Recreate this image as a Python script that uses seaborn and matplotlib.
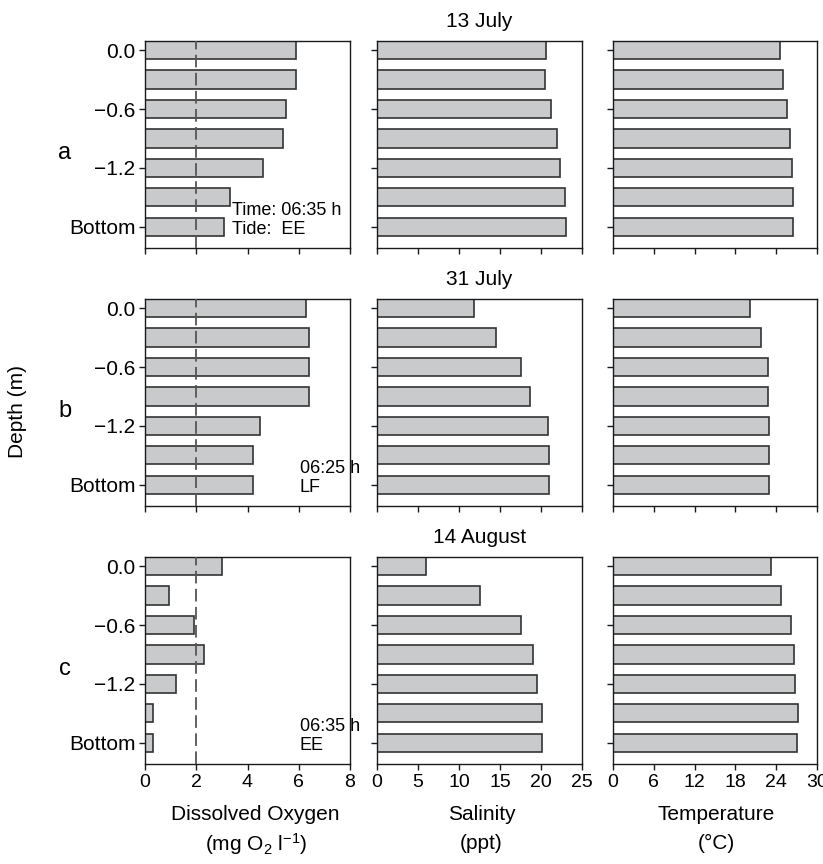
import matplotlib
matplotlib.use("Agg")
import matplotlib.pyplot as plt
import seaborn as sns
import pandas as pd

# depth levels, top to bottom
depth_levels = ["0.0", "-0.3", "-0.6", "-0.9", "-1.2", "-1.5", "Bottom"]
depth_tick_pos = [0, 2, 4, 6]
depth_tick_labels = ["0.0", "\u22120.6", "\u22121.2", "Bottom"]

dates = ["13 July", "31 July", "14 August"]
row_letters = ["a", "b", "c"]
times = ["Time: 06:35 h\nTide:  EE", "06:25 h\nLF", "06:35 h\nEE"]

# dissolved oxygen (mg O2 l-1)
oxygen_13jul = [5.9, 5.9, 5.5, 5.4, 4.6, 3.3, 3.1]
oxygen_31jul = [6.3, 6.4, 6.4, 6.4, 4.5, 4.2, 4.2]
oxygen_14aug = [3.0, 0.95, 1.9, 2.3, 1.2, 0.3, 0.3]

# salinity (ppt)
salinity_13jul = [20.6, 20.5, 21.2, 22.0, 22.3, 22.9, 23.1]
salinity_31jul = [11.8, 14.5, 17.5, 18.7, 20.8, 21.0, 21.0]
salinity_14aug = [6.0, 12.5, 17.6, 19.0, 19.5, 20.1, 20.1]

# temperature (deg C)
temperature_13jul = [24.6, 25.0, 25.6, 26.1, 26.3, 26.5, 26.5]
temperature_31jul = [20.2, 21.8, 22.8, 22.8, 22.9, 23.0, 22.9]
temperature_14aug = [23.2, 24.7, 26.2, 26.6, 26.8, 27.2, 27.0]

oxygen = [oxygen_13jul, oxygen_31jul, oxygen_14aug]
salinity = [salinity_13jul, salinity_31jul, salinity_14aug]
temperature = [temperature_13jul, temperature_31jul, temperature_14aug]

variables = [oxygen, salinity, temperature]
x_limits = [(0, 8), (0, 25), (0, 30)]
x_ticks = [[0, 2, 4, 6, 8], [0, 5, 10, 15, 20, 25], [0, 6, 12, 18, 24, 30]]
x_labels = ["Dissolved Oxygen", "Salinity", "Temperature"]
x_units = ["(mg O$_2$ l$^{-1}$)", "(ppt)", "(\u00b0C)"]
x_label_x = [0.54, 0.51, 0.505]

sns.set_theme(style="ticks")
plt.rcParams["font.family"] = ["Liberation Sans", "DejaVu Sans"]
plt.rcParams["mathtext.fontset"] = "custom"
plt.rcParams["mathtext.rm"] = "Liberation Sans"
plt.rcParams["mathtext.it"] = "Liberation Sans:italic"
plt.rcParams["text.color"] = "black"
plt.rcParams["axes.labelcolor"] = "black"
plt.rcParams["axes.edgecolor"] = "#1a1a1a"
plt.rcParams["axes.linewidth"] = 1.0
plt.rcParams["xtick.color"] = "#1a1a1a"
plt.rcParams["ytick.color"] = "#1a1a1a"
plt.rcParams["xtick.labelcolor"] = "black"
plt.rcParams["ytick.labelcolor"] = "black"

W, H = 823, 864
fig = plt.figure(figsize=(W / 100, H / 100), dpi=100)

col_left = [145, 377, 613]
col_width = [205, 205, 204]
row_top = [41, 299, 557]
row_height = 207

bar_color = "#c9cacc"
edge_color = "#333333"

for r in range(3):
    for c in range(3):
        ax = fig.add_axes([col_left[c] / W, 1 - (row_top[r] + row_height) / H,
                           col_width[c] / W, row_height / H])
        df = pd.DataFrame({"depth": depth_levels, "value": variables[c][r]})
        sns.barplot(data=df, x="value", y="depth", orient="h", color=bar_color,
                    saturation=1, edgecolor=edge_color, linewidth=1.2,
                    width=0.62, ax=ax)
        ax.set_ylim(6.72, -0.31)
        ax.set_xlim(*x_limits[c])
        ax.set_xticks(x_ticks[c])
        ax.set_yticks(depth_tick_pos)
        ax.tick_params(axis="both", direction="out", length=4, width=1, pad=3)
        if c == 0:
            ax.set_yticklabels(depth_tick_labels, fontsize=15)
            ax.axvline(2, color="#555555", lw=1.3, ls=(0, (7, 3)), zorder=3)
            ax.text(0.424 if r == 0 else 0.756, 0.222, times[r], transform=ax.transAxes,
                    fontsize=13, ha="left", va="top", linespacing=1.15)
        else:
            ax.set_yticklabels([])
        ax.set_ylabel("")
        if r == 2:
            ax.set_xticklabels([str(t) for t in x_ticks[c]], fontsize=14)
            ax.set_xlabel(x_labels[c], fontsize=15)
            ax.xaxis.set_label_coords(x_label_x[c], -0.20)
            ax.text(x_label_x[c], -0.386, x_units[c], transform=ax.transAxes,
                    fontsize=15, ha="center", va="center")
        else:
            ax.set_xticklabels([])
            ax.set_xlabel("")
        if c == 1:
            ax.set_title(dates[r], fontsize=15, pad=10)
        if c == 0:
            ax.text(-0.39, 0.46, row_letters[r], transform=ax.transAxes,
                    fontsize=17, ha="center", va="center")

fig.text(18 / W, 1 - 412 / H, "Depth (m)", rotation=90, fontsize=15,
         ha="center", va="center")

fig.savefig("out.png", dpi=100)
plt.close(fig)
